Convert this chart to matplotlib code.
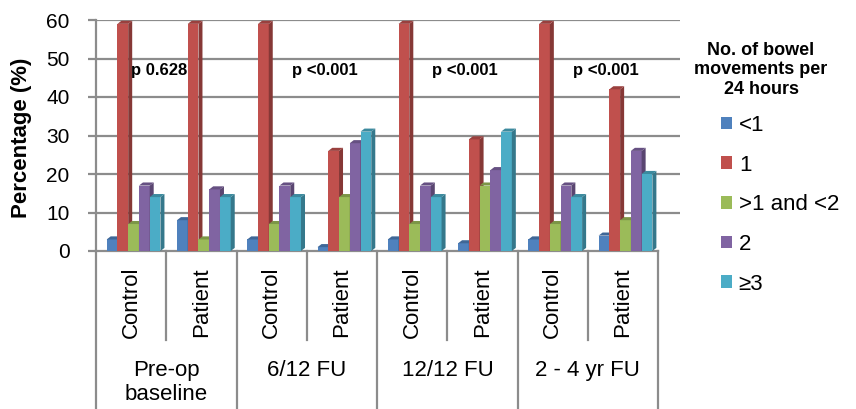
import matplotlib.pyplot as plt
from matplotlib.patches import Polygon
import matplotlib.transforms as mtransforms

plt.rcParams['font.family'] = ['Liberation Sans', 'DejaVu Sans']

# data
groups = ['Pre-op\nbaseline', '6/12 FU', '12/12 FU', '2 - 4 yr FU']
subgroups = ['Control', 'Patient']
series = ['<1', '1', '>1 and <2', '2', '≥3']
lt1 = [3, 8, 3, 1, 3, 2, 3, 4]
one = [59, 59, 59, 26, 59, 29, 59, 42]
gt1lt2 = [7, 3, 7, 14, 7, 17, 7, 8]
two = [17, 16, 17, 28, 17, 21, 17, 26]
ge3 = [14, 14, 14, 31, 14, 31, 14, 20]
pvals = ['p 0.628', 'p <0.001', 'p <0.001', 'p <0.001']

colors = ['#4F81BD', '#C0504D', '#9BBB59', '#8064A2', '#4BACC6']
values = [lt1, one, gt1lt2, two, ge3]

def shade(c, f):
    r, g, b = [int(c[i:i + 2], 16) / 255 for i in (1, 3, 5)]
    return (r * f, g * f, b * f)

fig = plt.figure(figsize=(8.56, 4.09), dpi=100)
ax = fig.add_axes([96 / 856, 1 - 251 / 409, 584 / 856, 231 / 409])

n = len(lt1)
ax.set_xlim(0, 8.31)
ax.set_ylim(0, 60)

# gridlines
for yv in range(10, 61, 10):
    ax.axhline(yv, color='#8c8c8c', lw=1.6, zorder=0)

# 3d-ish bars: front face + side + top
bw = 0.153
dx, dy = 0.057, 0.8
z = 2
handles = []
for k in range(n):
    for j, (vals, c) in enumerate(zip(values, colors)):
        x0 = k + 0.152 + j * bw
        x1 = x0 + bw
        v = vals[k]
        b = ax.bar(x0, v, width=bw, align='edge', color=c, edgecolor='none', zorder=z)
        side = Polygon([(x1, 0), (x1 + dx, dy), (x1 + dx, v + dy), (x1, v)],
                       closed=True, facecolor=shade(c, 0.7), edgecolor='none', zorder=z)
        top = Polygon([(x0, v), (x0 + dx, v + dy), (x1 + dx, v + dy), (x1, v)],
                      closed=True, facecolor=shade(c, 0.8), edgecolor='none', zorder=z)
        ax.add_patch(side)
        ax.add_patch(top)
        z += 1
        if k == 0:
            handles.append(b)

# p-values
for i, p in enumerate(pvals):
    xp = 0.9 if i == 0 else 2 * i + 1.25
    ax.text(xp, 47, p, ha='center', va='center', fontsize=12, fontweight='bold', zorder=100)

# axes styling
for s in ['top', 'right', 'bottom']:
    ax.spines[s].set_visible(False)
ax.spines['left'].set_color('#8c8c8c')
ax.spines['left'].set_linewidth(1.6)
ax.plot([0, 8.0], [0, 0], color='#8c8c8c', lw=1.6, clip_on=False, zorder=1)
ax.set_yticks(range(0, 61, 10))
ax.tick_params(axis='y', labelsize=15, length=6, width=1.6, color='#8c8c8c', pad=13)
ax.set_xticks([])

# category axis (two levels)
trans = mtransforms.blended_transform_factory(ax.transData, ax.transAxes)
for k in range(n + 1):
    bottom = -0.684 if k % 2 == 0 else -0.385
    ax.plot([k, k], [0, bottom], color='#8c8c8c', lw=1.6, transform=trans, clip_on=False)
for k in range(n):
    ax.text(k + 0.5, -0.22, subgroups[k % 2], rotation=90, ha='center', va='center',
            fontsize=16, transform=trans)
for i, g in enumerate(groups):
    ax.text(2 * i + 1, -0.47, g, ha='center', va='top', fontsize=16,
            transform=trans, linespacing=1.2)

fig.text(22 / 856, 1 - 138 / 409, 'Percentage (%)', rotation=90, ha='center', va='center',
         fontsize=16, fontweight='bold')

# legend
fig.text(761 / 856, 1 - 70 / 409, 'No. of bowel\nmovements per\n24 hours', ha='center',
         va='center', fontsize=13, fontweight='bold', linespacing=1.2)
fig.legend(handles, series, loc='upper left', bbox_to_anchor=(721 / 856, 1 - 115 / 409),
           frameon=False, fontsize=16, handlelength=0.5, handleheight=0.5,
           handletextpad=0.3, labelspacing=0.84, borderpad=0, borderaxespad=0)

fig.savefig('out.png', dpi=100)
